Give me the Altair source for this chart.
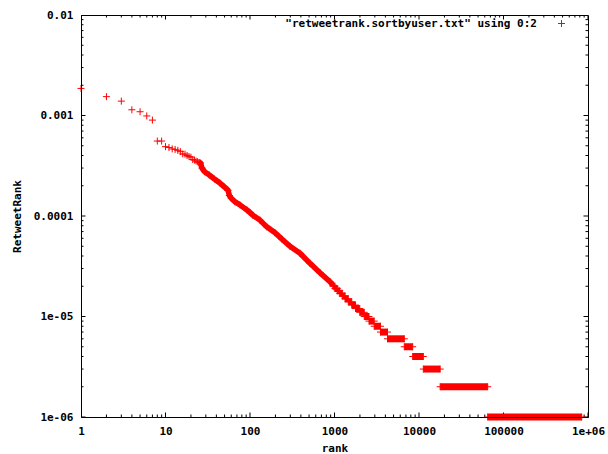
import altair as alt
import pandas as pd

series_name = '"retweetrank.sortbyuser.txt" using 0:2'

# individually visible points (rank, RetweetRank)
sparse_rank = [1, 2, 3, 4, 5, 6, 7, 8, 9, 10, 11, 12, 13, 14, 15, 16, 17, 18, 19, 20,
               21, 22, 23, 24, 25]
sparse_value = [1.86e-3, 1.54e-3, 1.39e-3, 1.14e-3, 1.09e-3, 9.9e-4, 9.0e-4, 5.57e-4,
                5.57e-4, 4.9e-4, 4.8e-4, 4.65e-4, 4.6e-4, 4.5e-4, 4.37e-4, 4.15e-4,
                4.12e-4, 4.0e-4, 3.9e-4, 3.85e-4, 3.65e-4, 3.6e-4, 3.52e-4, 3.47e-4,
                3.4e-4]

# dense band
band_rank = [25, 26, 27, 29, 33, 38, 44, 50, 55, 57, 60, 66, 76, 92, 108, 131, 158,
             198, 238, 297, 391, 513, 673, 885, 960]
band_value = [3.4e-4, 3.37e-4, 3.0e-4, 2.76e-4, 2.56e-4, 2.33e-4, 2.13e-4, 1.94e-4,
              1.8e-4, 1.6e-4, 1.5e-4, 1.39e-4, 1.29e-4, 1.15e-4, 1.02e-4, 9.1e-5,
              7.8e-5, 6.8e-5, 5.9e-5, 5.0e-5, 4.26e-5, 3.38e-5, 2.73e-5, 2.22e-5,
              2.05e-5]

# quantised tail: runs of equal values
step_value = [2.0e-5, 1.9e-5, 1.8e-5, 1.7e-5, 1.6e-5, 1.5e-5, 1.4e-5, 1.3e-5, 1.2e-5,
              1.1e-5, 1.0e-5, 9e-6, 8e-6, 7e-6, 6e-6, 5e-6, 4e-6, 3e-6, 2e-6, 1e-6]
step_start = [960, 1014, 1077, 1153, 1236, 1332, 1455, 1600, 1773, 1990, 2250, 2560,
              2950, 3500, 4240, 6700, 8420, 11250, 17800, 65000]
step_end = [1014, 1077, 1153, 1236, 1332, 1455, 1600, 1773, 1990, 2250, 2560, 2950,
            3500, 4240, 6700, 8420, 11250, 17800, 65000, 842000]

x_major = [1, 10, 100, 1000, 10000, 100000, 1000000]
x_labels = ["1", "10", "100", "1000", "10000", "100000", "1e+06"]
y_major = [0.01, 0.001, 0.0001, 1e-5, 1e-6]
y_labels = ["0.01", "0.001", "0.0001", "1e-05", "1e-06"]
minor_mult = [2, 3, 4, 5, 6, 7, 8, 9]

x_minor = [m * d for d in x_major[:-1] for m in minor_mult]
y_minor = [m * d for d in y_major[1:] for m in minor_mult]

RED = "#ff0000"
FONT = "DejaVu Sans Mono"
CROSS = "M-1,0H1M0,-1V1"

pts = pd.DataFrame({
    "rank": sparse_rank + band_rank + step_start + step_end,
    "value": sparse_value + band_value + step_value + step_value,
})
pts["series"] = series_name
band = pd.DataFrame({"rank": band_rank, "value": band_value})
steps = pd.DataFrame({"start": step_start, "end": step_end, "value": step_value})

xscale = alt.Scale(type="log", domain=[1, 1000000], nice=False)
yscale = alt.Scale(type="log", domain=[1e-6, 0.01], nice=False)

x_label_expr = "[" + ",".join("'%s'" % s for s in x_labels) + "][round(log(datum.value)/LN10)]"
y_label_expr = "[" + ",".join("'%s'" % s for s in y_labels) + "][round(-log(datum.value)/LN10) - 2]"

xaxis = alt.Axis(values=x_major, labelExpr=x_label_expr, ticks=False, grid=False,
                 domain=True, domainColor="#000000", labelFont=FONT, labelFontSize=11,
                 labelFontWeight="bold", labelColor="#000000", labelPadding=8,
                 labelFlush=False, labelOverlap=False,
                 title="rank", titleFont=FONT, titleFontSize=11, titleFontWeight="bold",
                 titleColor="#000000", titleY=31, titleBaseline="middle", zindex=1)
yaxis = alt.Axis(values=y_major, labelExpr=y_label_expr, ticks=False, grid=False,
                 domain=True, domainColor="#000000", labelFont=FONT, labelFontSize=11,
                 labelFontWeight="bold", labelColor="#000000", labelPadding=8,
                 labelFlush=False, labelOverlap=False,
                 title="RetweetRank", titleFont=FONT, titleFontSize=11,
                 titleFontWeight="bold", titleColor="#000000", titleAngle=270,
                 titleX=-64, titleY=201, titleBaseline="middle", titleAlign="center",
                 zindex=1)

legend = alt.Legend(title=None, orient="none", legendX=475, legendY=3, padding=0,
                    symbolType=CROSS, symbolSize=49, symbolStrokeWidth=1,
                    labelAlign="right", labelOffset={"expr": "-30"}, labelFont=FONT,
                    labelFontSize=11, labelFontWeight="bold", labelColor="#000000",
                    labelLimit=0)

base = alt.Chart(pts)

points = base.mark_point(shape=CROSS, filled=False, size=49, strokeWidth=1,
                         opacity=1).encode(
    x=alt.X("rank:Q", scale=xscale, axis=xaxis),
    y=alt.Y("value:Q", scale=yscale, axis=yaxis),
    color=alt.Color("series:N", scale=alt.Scale(domain=[series_name], range=[RED]),
                    legend=legend),
)

band_line = alt.Chart(band).mark_line(color=RED, strokeWidth=5.5, strokeJoin="round",
                                      strokeCap="butt").encode(
    x=alt.X("rank:Q", scale=xscale),
    y=alt.Y("value:Q", scale=yscale),
)

step_rules = alt.Chart(steps).mark_rule(color=RED, strokeWidth=7, strokeCap="butt").encode(
    x=alt.X("start:Q", scale=xscale),
    x2="end:Q",
    y=alt.Y("value:Q", scale=yscale),
)

xt_major = pd.DataFrame({"t": x_major})
xt_minor = pd.DataFrame({"t": x_minor})
yt_major = pd.DataFrame({"t": y_major})
yt_minor = pd.DataFrame({"t": y_minor})

def xticks(df, length):
    layers = []
    for edge in (y_major[0], y_major[-1]):
        layers.append(alt.Chart(df).mark_tick(orient="vertical", size=length, thickness=1,
                                               color="#000000", clip=True, opacity=1).encode(
            x=alt.X("t:Q", scale=xscale), y=alt.datum(edge, scale=yscale)))
    return layers

def yticks(df, length):
    layers = []
    for edge in (x_major[0], x_major[-1]):
        layers.append(alt.Chart(df).mark_tick(orient="horizontal", size=length, thickness=1,
                                               color="#000000", clip=True, opacity=1).encode(
            y=alt.Y("t:Q", scale=yscale), x=alt.datum(edge, scale=xscale)))
    return layers

tick_layers = xticks(xt_major, 9) + xticks(xt_minor, 5) + yticks(yt_major, 9) + yticks(yt_minor, 5)

chart = alt.layer(*tick_layers, band_line, step_rules, points).properties(
    width=507, height=402,
    padding={"left": 81, "top": 15, "right": 20, "bottom": 37},
    autosize=alt.AutoSizeParams(type="none"),
    background="#ffffff",
).configure_view(stroke="#000000", strokeWidth=1)

chart.save("out.html", embed_options={"renderer": "svg", "actions": False})
